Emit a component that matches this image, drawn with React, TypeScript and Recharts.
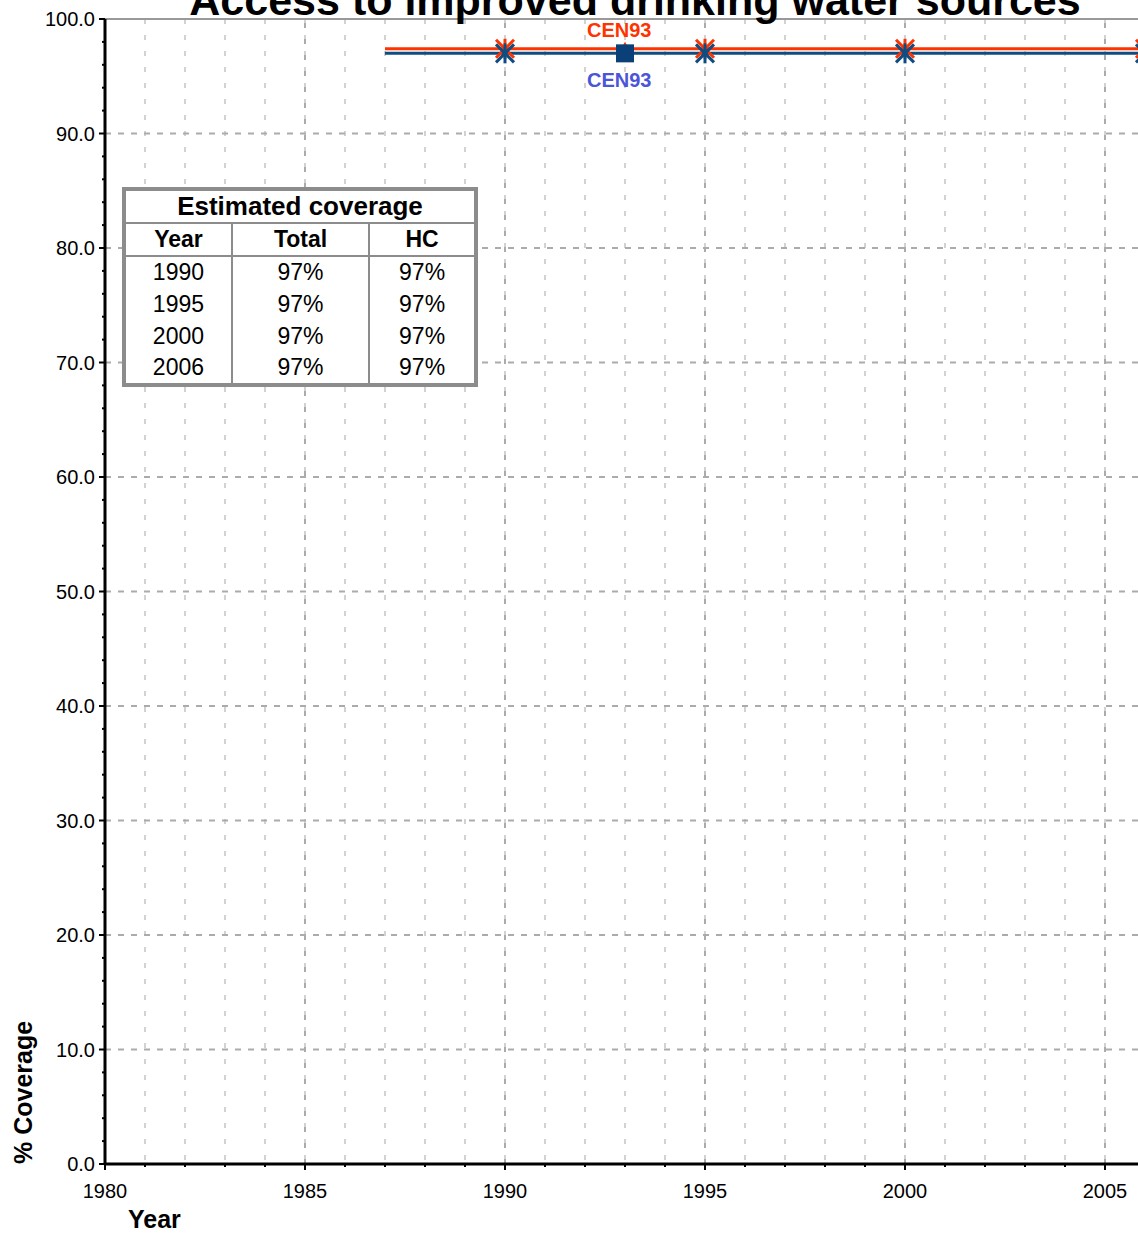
import { ComposedChart, Line, Scatter, XAxis, YAxis, CartesianGrid, ReferenceLine } from 'recharts';

const FONT = '"Liberation Sans", Arial, sans-serif';

// trend lines (estimates, drawn over the whole period)
const lineYears = [1987, 1990, 1995, 2000, 2006, 2008];
const totalLine = [97.4, 97.4, 97.4, 97.4, 97.4, 97.4];
const hcLine = [97.0, 97.0, 97.0, 97.0, 97.0, 97.0];

// estimate markers
const estimateYears = [1990, 1995, 2000, 2006];
const totalEstimates = [97.4, 97.4, 97.4, 97.4];
const hcEstimates = [97.0, 97.0, 97.0, 97.0];

// survey points
const surveyYears = [1993];
const surveyNames = ['CEN93'];
const totalSurvey = [97.4];
const hcSurvey = [97.0];

// axis ticks
const xMajorTicks = [1980, 1985, 1990, 1995, 2000, 2005];
const yMajorTicks = [0, 10, 20, 30, 40, 50, 60, 70, 80, 90, 100];
const xAllTicks = Array.from({ length: 29 }, (_, i) => 1980 + i);
const yAllTicks = Array.from({ length: 51 }, (_, i) => i * 2);

// table
const tableHeaders = ['Year', 'Total', 'HC'];
const tableYears = ['1990', '1995', '2000', '2006'];
const tableTotal = ['97%', '97%', '97%', '97%'];
const tableHC = ['97%', '97%', '97%', '97%'];

const RED = '#ff3300';
const BLUE = '#0f4c81';

const toPoints = (xs: number[], ys: number[], names?: string[]) =>
  xs.map((x, i) => ({ year: x, value: ys[i], name: names ? names[i] : '' }));

const XTick = (props: any) => {
  const { x, y, payload } = props;
  const major = xMajorTicks.includes(payload.value);
  return (
    <g>
      <line x1={x} x2={x} y1={y} y2={y + (major ? 6 : 3)} stroke="#000" strokeWidth={2} />
      {major && (
        <text x={x} y={y + 34} textAnchor="middle" fontSize={20} fontFamily={FONT} fill="#000">
          {payload.value}
        </text>
      )}
    </g>
  );
};

const YTick = (props: any) => {
  const { x, y, payload } = props;
  const major = yMajorTicks.includes(payload.value);
  return (
    <g>
      <line x1={x - (major ? 6 : 3)} x2={x} y1={y} y2={y} stroke="#000" strokeWidth={2} />
      {major && (
        <text x={x - 10} y={y + 7} textAnchor="end" fontSize={20} fontFamily={FONT} fill="#000">
          {payload.value.toFixed(1)}
        </text>
      )}
    </g>
  );
};

const asterisk = (color: string) => (props: any) => {
  const { cx, cy } = props;
  const s = 9;
  return (
    <g stroke={color} strokeWidth={3}>
      <line x1={cx - s} y1={cy - s} x2={cx + s} y2={cy + s} />
      <line x1={cx - s} y1={cy + s} x2={cx + s} y2={cy - s} />
      <line x1={cx} y1={cy - s - 1} x2={cx} y2={cy + s + 1} />
    </g>
  );
};

const RedSurvey = (props: any) => {
  const { cx, cy, payload } = props;
  return (
    <g>
      <polygon points={`${cx},${cy - 7} ${cx - 7},${cy + 5} ${cx + 7},${cy + 5}`} fill={RED} />
      <text x={cx - 38} y={cy - 12} fontSize={20} fontWeight="bold" fontFamily={FONT} fill={RED}>
        {payload.name}
      </text>
    </g>
  );
};

const BlueSurvey = (props: any) => {
  const { cx, cy, payload } = props;
  return (
    <g>
      <rect x={cx - 9} y={cy - 9} width={18} height={18} fill="#0a3f78" />
      <text x={cx - 38} y={cy + 34} fontSize={20} fontWeight="bold" fontFamily={FONT} fill="#4a55d8">
        {payload.name}
      </text>
    </g>
  );
};

const cell = { padding: 0, textAlign: 'center' as const, borderLeft: '2px solid #8c8c8c', borderRight: '2px solid #8c8c8c' };

const App = () => {
  return (
    <div style={{ position: 'absolute', left: 0, top: 0, width: 1138, height: 1237, overflow: 'hidden', background: '#fff' }}>
      <ComposedChart width={1235} height={1237} margin={{ top: 19, right: 10, bottom: 0, left: 8 }}>
        <CartesianGrid horizontal={false} stroke="#d2d2d2" strokeWidth={2} strokeDasharray="5 11" />
        {xMajorTicks.slice(1).map((t) => (
          <ReferenceLine key={'vx' + t} x={t} stroke="#ababab" strokeWidth={2} strokeDasharray="5 11" />
        ))}
        {yMajorTicks.slice(1, -1).map((t) => (
          <ReferenceLine key={'hy' + t} y={t} stroke="#ababab" strokeWidth={2} strokeDasharray="6 7" />
        ))}
        <ReferenceLine y={100} stroke="#999" strokeWidth={2} />
        <XAxis
          type="number"
          dataKey="year"
          domain={[1980, 2008]}
          ticks={xAllTicks}
          interval={0}
          height={73}
          tickSize={0}
          tickMargin={0}
          tickLine={false}
          axisLine={{ stroke: '#000', strokeWidth: 3 }}
          tick={<XTick />}
          allowDataOverflow
        />
        <YAxis
          type="number"
          domain={[0, 100]}
          ticks={yAllTicks}
          interval={0}
          width={97}
          tickSize={0}
          tickMargin={0}
          tickLine={false}
          axisLine={{ stroke: '#000', strokeWidth: 3 }}
          tick={<YTick />}
          allowDataOverflow
        />
        <Line data={toPoints(lineYears, totalLine)} dataKey="value" stroke={RED} strokeWidth={3} dot={false} activeDot={false} isAnimationActive={false} />
        <Line data={toPoints(lineYears, hcLine)} dataKey="value" stroke={BLUE} strokeWidth={3} dot={false} activeDot={false} isAnimationActive={false} />
        <Scatter data={toPoints(estimateYears, totalEstimates)} dataKey="value" shape={asterisk(RED)} isAnimationActive={false} />
        <Scatter data={toPoints(estimateYears, hcEstimates)} dataKey="value" shape={asterisk(BLUE)} isAnimationActive={false} />
        <Scatter data={toPoints(surveyYears, totalSurvey, surveyNames)} dataKey="value" shape={RedSurvey} isAnimationActive={false} />
        <Scatter data={toPoints(surveyYears, hcSurvey, surveyNames)} dataKey="value" shape={BlueSurvey} isAnimationActive={false} />
      </ComposedChart>

      <svg width={1138} height={1237} style={{ position: 'absolute', left: 0, top: 0, pointerEvents: 'none' }}>
        <text x={635} y={15} textAnchor="middle" fontSize={43} fontWeight="bold" fontFamily={FONT} fill="#000">
          Access to improved drinking water sources
        </text>
        <text x={128} y={1228} fontSize={25} fontWeight="bold" fontFamily={FONT} fill="#000">
          Year
        </text>
        <text
          x={32}
          y={1164}
          transform="rotate(-90, 32, 1164)"
          fontSize={25}
          fontWeight="bold"
          fontFamily={FONT}
          fill="#000"
        >
          % Coverage
        </text>
      </svg>

      <table
        style={{
          position: 'absolute',
          left: 122,
          top: 187,
          width: 356,
          height: 200,
          borderCollapse: 'collapse',
          border: '4px solid #8c8c8c',
          fontFamily: FONT,
          background: '#fff',
          color: '#000',
        }}
      >
        <colgroup>
          <col style={{ width: 109 }} />
          <col style={{ width: 139 }} />
          <col style={{ width: 108 }} />
        </colgroup>
        <tbody>
          <tr style={{ height: 34 }}>
            <td colSpan={3} style={{ padding: 0, textAlign: 'center', fontWeight: 'bold', fontSize: 26, borderBottom: '2px solid #8c8c8c' }}>
              Estimated coverage
            </td>
          </tr>
          <tr style={{ height: 33 }}>
            {tableHeaders.map((h) => (
              <td key={h} style={{ ...cell, fontWeight: 'bold', fontSize: 23, borderBottom: '2px solid #8c8c8c' }}>
                {h}
              </td>
            ))}
          </tr>
          {tableYears.map((yr, i) => (
            <tr key={yr} style={{ height: 32 }}>
              <td style={{ ...cell, fontSize: 23 }}>{yr}</td>
              <td style={{ ...cell, fontSize: 23 }}>{tableTotal[i]}</td>
              <td style={{ ...cell, fontSize: 23 }}>{tableHC[i]}</td>
            </tr>
          ))}
        </tbody>
      </table>
    </div>
  );
};

export default App;
